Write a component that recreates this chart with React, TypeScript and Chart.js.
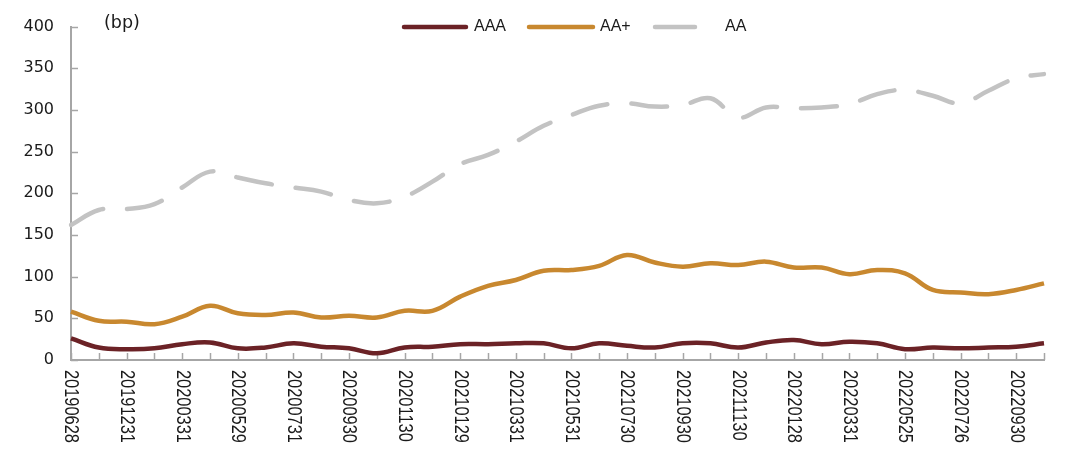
import React, { useEffect, useRef } from 'react';
import { Chart, registerables } from 'chart.js';

Chart.register(...registerables);

// ---- data ----
const tickLabels = [
  '20190628', '20191231', '20200331', '20200529', '20200731', '20200930',
  '20201130', '20210129', '20210331', '20210531', '20210730', '20210930',
  '20211130', '20220128', '20220331', '20220525', '20220726', '20220930',
];

const seriesNames = ['AAA', 'AA+', 'AA'];

const aaa = [26, 15, 13, 14, 19, 21, 14, 15, 20, 16, 14, 8, 15, 16, 19, 19, 20, 20, 14, 20, 17, 15, 20, 20, 15, 21, 24, 19, 22, 20, 13, 15, 14, 15, 16, 20];
const aaPlus = [58, 47, 46, 43, 52, 65, 56, 54, 57, 51, 53, 51, 59, 59, 76, 89, 96, 107, 108, 113, 126, 117, 112, 116, 114, 118, 111, 111, 103, 108, 104, 84, 81, 79, 84, 92];
const aa = [162, 180, 181, 187, 207, 226, 219, 212, 207, 202, 192, 188, 196, 214, 235, 246, 262, 281, 294, 305, 308, 304, 306, 314, 291, 303, 302, 303, 307, 319, 324, 317, 308, 323, 338, 343];

const yMin = 0;
const yMax = 400;
const yStep = 50;
const unitLabel = '(bp)';

const categories = aaa.map((_, i) => (i % 2 === 0 ? tickLabels[i / 2] : ''));

// ---- styles ----
const COLORS = ['#6B2226', '#C8882F', '#C3C3C3'];
const AXIS_COLOR = '#A6A6A6';
const TEXT_COLOR = '#1A1A1A';

const decorPlugin = {
  id: 'decor',
  beforeDatasetsDraw(chart: any) {
    const ctx = chart.ctx;
    const xs = chart.scales.x;
    const ys = chart.scales.y;
    const area = chart.chartArea;
    ctx.save();
    ctx.strokeStyle = AXIS_COLOR;
    ctx.lineWidth = 1.5;
    xs.ticks.forEach((_: any, i: number) => {
      const px = Math.round(xs.getPixelForTick(i)) + 0.5;
      ctx.beginPath();
      ctx.moveTo(px, area.bottom);
      ctx.lineTo(px, area.bottom - 7);
      ctx.stroke();
    });
    ys.ticks.forEach((_: any, i: number) => {
      const py = Math.round(ys.getPixelForTick(i)) + 0.5;
      ctx.beginPath();
      ctx.moveTo(area.left, py);
      ctx.lineTo(area.left + 7, py);
      ctx.stroke();
    });
    ctx.restore();
  },
  afterDraw(chart: any) {
    const ctx = chart.ctx;
    const xs = chart.scales.x;
    const area = chart.chartArea;
    ctx.save();
    // rotated x labels (reading top to bottom), narrow face
    ctx.fillStyle = TEXT_COLOR;
    ctx.font = '20px "Liberation Sans", Arial, sans-serif';
    ctx.textAlign = 'left';
    ctx.textBaseline = 'middle';
    xs.ticks.forEach((t: any, i: number) => {
      const label = categories[t.value];
      if (!label) return;
      const px = xs.getPixelForTick(i);
      ctx.save();
      ctx.translate(px, area.bottom + 10);
      ctx.rotate(Math.PI / 2);
      ctx.scale(0.82, 1);
      ctx.fillText(label, 0, 0);
      ctx.restore();
    });

    // unit label
    ctx.font = '17.5px "DejaVu Sans", sans-serif';
    ctx.textBaseline = 'alphabetic';
    ctx.fillText(unitLabel, area.left + 33, 28);

    // legend
    const legendY = 27;
    const items = [
      { x0: 404, x1: 466, tx: 474 },
      { x0: 529, x1: 593, tx: 600 },
      { x0: 655, x1: 695, tx: 725 },
    ];
    ctx.font = '16px "Liberation Sans", Arial, sans-serif';
    ctx.textBaseline = 'middle';
    items.forEach((it, k) => {
      ctx.strokeStyle = COLORS[k];
      ctx.lineWidth = 4.5;
      ctx.lineCap = 'round';
      ctx.beginPath();
      ctx.moveTo(it.x0, legendY);
      ctx.lineTo(it.x1, legendY);
      ctx.stroke();
      ctx.fillStyle = TEXT_COLOR;
      ctx.fillText(seriesNames[k], it.tx, legendY);
    });
    ctx.restore();
  },
};

export default function App() {
  const canvasRef = useRef<HTMLCanvasElement | null>(null);

  useEffect(() => {
    document.body.style.margin = '0';
    const canvas = canvasRef.current;
    if (!canvas) return;
    const series = [aaa, aaPlus, aa];
    const chart = new Chart(canvas, {
      type: 'line',
      data: {
        labels: categories,
        datasets: series.map((values, k) => ({
          label: seriesNames[k],
          data: values,
          borderColor: COLORS[k],
          backgroundColor: COLORS[k],
          borderWidth: 4.5,
          borderDash: k === 2 ? [36, 24] : [],
          borderCapStyle: k === 2 ? 'round' : 'butt',
          borderJoinStyle: 'round',
          pointRadius: 0,
          pointHoverRadius: 0,
          tension: 0.4,
          fill: false,
          order: 3 - k,
        })),
      },
      plugins: [decorPlugin],
      options: {
        animation: false,
        responsive: false,
        devicePixelRatio: 1,
        events: [],
        layout: { padding: { top: 17, right: 36, left: 0, bottom: 0 } },
        plugins: {
          legend: { display: false },
          tooltip: { enabled: false },
          title: { display: false },
        },
        scales: {
          x: {
            type: 'category',
            offset: false,
            grid: { display: false, drawTicks: false },
            border: { display: true, color: AXIS_COLOR, width: 2 },
            ticks: { display: false, autoSkip: false },
            afterFit: (scale: any) => {
              scale.height = 105;
            },
          },
          y: {
            min: yMin,
            max: yMax,
            grid: { display: false, drawTicks: false },
            border: { display: true, color: AXIS_COLOR, width: 2 },
            ticks: {
              stepSize: yStep,
              padding: 17,
              color: TEXT_COLOR,
              font: { family: '"DejaVu Sans", sans-serif', size: 16 },
            },
            afterFit: (scale: any) => {
              scale.width = 71;
            },
          },
        },
      },
    });
    return () => chart.destroy();
  }, []);

  return (
    <div style={{ position: 'absolute', left: 0, top: 0, width: 1080, height: 465, background: '#fff' }}>
      <canvas ref={canvasRef} width={1080} height={465} style={{ display: 'block' }} />
    </div>
  );
}
